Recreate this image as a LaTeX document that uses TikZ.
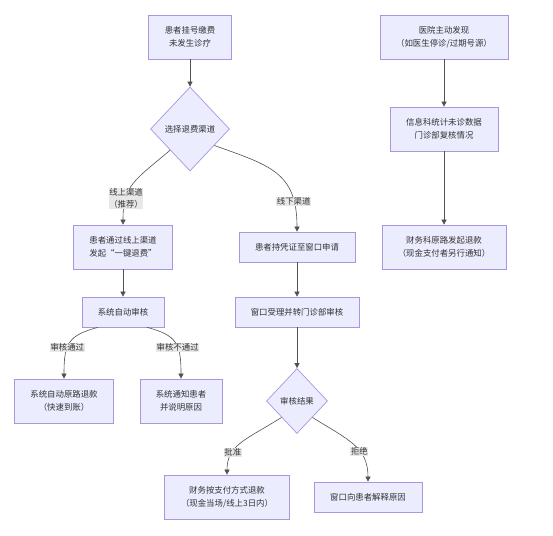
\documentclass[tikz,border=0pt]{standalone}
\usepackage{fontspec}
\setmainfont{Noto Sans CJK SC}
\usetikzlibrary{arrows.meta,shapes.geometric}
\definecolor{Lilac}{HTML}{ECECFF}
\definecolor{Rim}{HTML}{A995E0}
\definecolor{Ink}{HTML}{333333}
\definecolor{Tag}{HTML}{E8E8E8}

\begin{document}
\begin{tikzpicture}[x=1pt,y=-1pt,>={Triangle[length=5pt,width=5pt]},
    box/.style={fill=Lilac,draw=Rim,line width=0.7pt,align=center,inner sep=0pt,minimum height=44pt,text=Ink,font=\fontsize{8.4}{13}\selectfont},
    choice/.style={box,diamond},
    lbl/.style={fill=Tag,inner sep=0.6pt,align=center,text=Ink,font=\fontsize{8.4}{12}\selectfont},
    flow/.style={->,Ink!85!white,line width=0.6pt}]
    \fill[white] (0,0) rectangle (553,535);
    \useasboundingbox (0,0) rectangle (553,535);
    % patient side
    \node[box,minimum width=83pt] (first) at (190,37) {患者挂号缴费\\未发生诊疗};
    \node[choice,minimum width=79pt,minimum height=84pt] (choice) at (190,129) {选择退费渠道};
    \node[box,minimum width=99pt] (online) at (123,247) {患者通过线上渠道\\发起“一键退费”};
    \node[box,minimum width=116pt,minimum height=30pt] (offline) at (297,247) {患者持凭证至窗口申请};
    \node[box,minimum width=82pt,minimum height=30pt] (check) at (123,312) {系统自动审核};
    \node[box,minimum width=124pt,minimum height=30pt] (review) at (297,312) {窗口受理并转门诊部审核};
    \node[box,minimum width=99pt] (autopay) at (64,401) {系统自动原路退款\\（快速到账）};
    \node[box,minimum width=82pt] (notify) at (181,401) {系统通知患者\\并说明原因};
    \node[choice,minimum width=61pt,minimum height=65pt] (decide) at (297,401) {审核结果};
    \node[box,minimum width=125pt] (approve) at (227,497) {财务按支付方式退款\\（现金当场/线上3日内）};
    \node[box,minimum width=108pt,minimum height=30pt] (explain) at (368,497) {窗口向患者解释原因};
    % hospital side
    \node[box,minimum width=128pt] (found) at (444,37) {医院主动发现\\（如医生停诊/过期号源）};
    \node[box,minimum width=108pt] (stats) at (444,129) {信息科统计未诊数据\\门诊部复核情况};
    \node[box,minimum width=124pt] (refund) at (444,247) {财务科原路发起退款\\（现金支付者另行通知）};

    \draw[flow] (first)--(choice);
    \draw[flow] (choice.south west) .. controls +(-35,30) and +(0,-40) .. node[lbl,pos=0.72] {线上渠道\\（推荐）} (online.north);
    \draw[flow] (choice.-34) .. controls +(55,20) and +(0,-60) .. node[lbl,pos=0.8] {线下渠道} (offline.north);
    \draw[flow] (online)--(check);\draw[flow] (offline)--(review);\draw[flow] (review)--(decide);
    \draw[flow] ([xshift=-25pt]check.south) .. controls +(-30,8) and +(0,-35) .. node[lbl,pos=0.6] {审核通过} (autopay.north);
    \draw[flow] ([xshift=24pt]check.south) .. controls +(30,8) and +(0,-35) .. node[lbl,pos=0.6] {审核不通过} (notify.north);
    \draw[flow] (decide.south west) .. controls +(-35,22) and +(0,-30) .. node[lbl,pos=0.68] {批准} (approve.north);
    \draw[flow] (decide.south east) .. controls +(35,22) and +(0,-35) .. node[lbl,pos=0.62] {拒绝} (explain.north);
    \draw[flow] (found)--(stats);\draw[flow] (stats)--(refund);
\end{tikzpicture}
\end{document}
